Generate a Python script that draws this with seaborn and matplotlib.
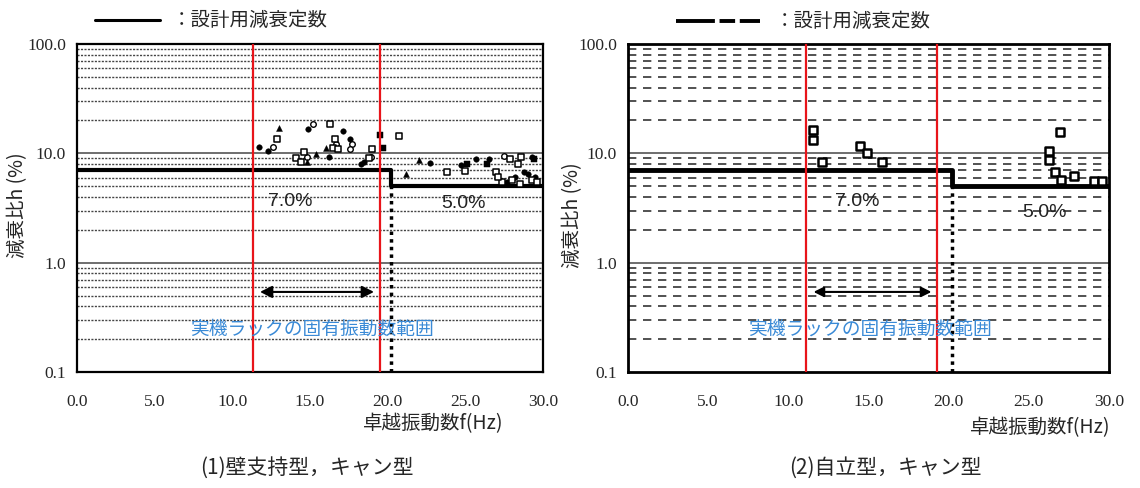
import numpy as np
import pandas as pd
import matplotlib
matplotlib.use("Agg")
import matplotlib.pyplot as plt
import seaborn as sns
from matplotlib.lines import Line2D

# ---------------- data ----------------
x_ticks = [0.0, 5.0, 10.0, 15.0, 20.0, 25.0, 30.0]
x_tick_labels = ["0.0", "5.0", "10.0", "15.0", "20.0", "25.0", "30.0"]
y_ticks = [0.1, 1.0, 10.0, 100.0]
y_tick_labels = ["0.1", "1.0", "10.0", "100.0"]

design_f = [0.0, 20.2, 30.0]
design_h = [7.0, 5.0, 5.0]
design_labels = ["7.0%", "5.0%"]
range_lo_left, range_hi_left = 11.3, 19.5
range_lo_right, range_hi_right = 11.1, 19.3

# left panel (wall-supported, can type)
l_fcirc_f = [14.85, 17.1, 11.72, 12.3, 17.6, 16.2, 18.3, 18.5, 22.7, 24.7, 25.7, 26.5, 29.3, 28.2, 28.75, 29.06, 29.5, 27.7]
l_fcirc_h = [16.6, 15.9, 11.4, 10.4, 13.4, 9.2, 8.0, 8.3, 8.1, 7.8, 8.9, 8.8, 9.2, 6.06, 6.74, 6.5, 6.06, 5.45]
l_ocirc_f = [15.2, 12.64, 16.7, 17.7, 17.6, 14.8, 18.9, 27.5]
l_ocirc_h = [18.5, 11.4, 12.1, 12.1, 10.9, 9.2, 9.2, 9.4]
l_osq_f = [16.3, 20.7, 12.9, 16.6, 16.5, 16.8, 19.0, 14.6, 14.1, 14.4, 18.8, 23.8, 25.0, 27.0, 27.9, 28.6, 28.4, 27.35, 28.0, 28.5, 29.3, 29.6, 27.1]
l_osq_h = [18.4, 14.3, 13.4, 13.4, 11.2, 10.9, 10.9, 10.3, 9.1, 8.4, 9.1, 6.7, 6.9, 6.7, 8.9, 9.2, 8.0, 5.45, 5.75, 5.27, 5.75, 5.45, 6.06]
l_tri_f = [13.03, 16.0, 15.4, 22.0, 21.2, 14.8]
l_tri_h = [17.1, 11.2, 9.9, 8.6, 6.5, 8.4]
l_fsq_f = [19.5, 19.7, 25.1, 26.4, 29.4]
l_fsq_h = [14.6, 11.1, 8.0, 8.0, 8.9]

# right panel (free-standing, can type)
r_sq_f = [11.56, 11.56, 12.08, 14.48, 14.93, 15.83, 26.95, 26.28, 26.28, 26.65, 27.0, 27.83, 29.07, 29.55]
r_sq_h = [16.3, 13.2, 8.4, 11.6, 10.0, 8.3, 15.7, 10.6, 8.6, 6.8, 5.65, 6.2, 5.6, 5.55]

legend_text = "：設計用減衰定数"
range_text = "実機ラックの固有振動数範囲"
xlabel = "卓越振動数f(Hz)"
ylabel = "減衰比h (%)"
captions = ["(1)壁支持型，キャン型", "(2)自立型，キャン型"]

# ---------------- style ----------------
sns.set_theme(style="white")
plt.rcParams["font.family"] = ["Liberation Serif", "Noto Sans CJK JP", "DejaVu Sans"]
JP = ["Noto Sans CJK JP", "DejaVu Sans"]

W, H = 1140, 488
fig = plt.figure(figsize=(W / 100, H / 100), dpi=100)

def fx(px):
    return px / W

def fy(py):
    return 1 - py / H

axL = fig.add_axes([fx(77), fy(372), fx(543 - 77), fy(44) - fy(372)])
axR = fig.add_axes([fx(628), fy(372), fx(1109 - 628), fy(44) - fy(372)])

design_df = pd.DataFrame({"f": design_f, "h": design_h})


def setup(ax, minor_style, minor_lw, minor_color, frame_lw):
    ax.set_yscale("log")
    ax.set_xlim(0, 30)
    ax.set_ylim(0.1, 100)
    for dec in [0.1, 1.0, 10.0]:
        for m in range(2, 10):
            ax.axhline(dec * m, color=minor_color, lw=minor_lw, ls=minor_style, zorder=1)
    for v in [1.0, 10.0]:
        ax.axhline(v, color="#555555", lw=1.2, zorder=1)
    ax.set_xticks(x_ticks)
    ax.set_xticklabels(x_tick_labels, fontsize=12.5)
    ax.set_yticks(y_ticks)
    ax.set_yticklabels(y_tick_labels, fontsize=12.5)
    ax.yaxis.set_minor_locator(matplotlib.ticker.NullLocator())
    ax.tick_params(axis="x", direction="in", length=4, pad=16, width=1)
    ax.tick_params(axis="y", direction="in", length=0, pad=8)
    for s in ax.spines.values():
        s.set_color("black")
        s.set_linewidth(frame_lw)


setup(axL, (0, (1.5, 1.0)), 1.0, "#444444", 1.6)
setup(axR, (0, (5, 4)), 1.2, "#333333", 2.0)

# design lines
for ax, lw in [(axL, 3.0), (axR, 3.5)]:
    sns.lineplot(data=design_df, x="f", y="h", drawstyle="steps-post", color="black",
                 lw=lw, ax=ax, zorder=4, estimator=None, sort=False)
    ax.plot([design_f[1], design_f[1]], [0.1, design_h[1]], color="black", lw=2.5,
            ls=(0, (1, 1.2)), zorder=4)

# left scatter
sk = dict(ax=axL, zorder=5, legend=False)
sns.scatterplot(x=l_fcirc_f, y=l_fcirc_h, marker="o", s=16, color="black", edgecolor="black", **sk)
sns.scatterplot(x=l_ocirc_f, y=l_ocirc_h, marker="o", s=16, color="white", edgecolor="black", linewidth=1.0, **sk)
sns.scatterplot(x=l_osq_f, y=l_osq_h, marker="s", s=18, color="white", edgecolor="black", linewidth=1.1, **sk)
sns.scatterplot(x=l_tri_f, y=l_tri_h, marker="^", s=18, color="black", edgecolor="black", **sk)
sns.scatterplot(x=l_fsq_f, y=l_fsq_h, marker="s", s=18, color="black", edgecolor="black", **sk)

# right scatter
sns.scatterplot(x=r_sq_f, y=r_sq_h, marker="s", s=38, color="white", edgecolor="black",
                linewidth=1.8, ax=axR, zorder=5, legend=False)

for ax in (axL, axR):
    ax.set_xlabel("")
    ax.set_ylabel("")

# annotations
for ax, lo, hi, t7, t5 in [(axL, range_lo_left, range_hi_left, (13.7, 3.6), (24.9, 3.5)),
                           (axR, range_lo_right, range_hi_right, (14.3, 3.6), (26.0, 2.9))]:
    ax.axvline(lo, color="#e8141a", lw=1.6, zorder=6)
    ax.axvline(hi, color="#e8141a", lw=1.6, zorder=6)
    ax.annotate("", xy=(hi - 0.2, 0.54), xytext=(lo + 0.3, 0.54),
                arrowprops=dict(arrowstyle="<|-|>", color="black", lw=1.5,
                                mutation_scale=18 if ax is axL else 15), zorder=6)
    ax.text(15.1, 0.245, range_text, color="#3a8ad6", fontsize=13.5, family=JP,
            ha="center", va="center", zorder=7)
    ax.text(t7[0], t7[1], design_labels[0], fontsize=14, family=["Liberation Sans"],
            ha="center", va="center", color="#222222", zorder=7)
    ax.text(t5[0], t5[1], design_labels[1], fontsize=14, family=["Liberation Sans"],
            ha="center", va="center", color="#222222", zorder=7)

# legends at the top
fig.add_artist(Line2D([fx(95), fx(160)], [fy(20), fy(20)], color="black", lw=2.2))
fig.text(fx(172), fy(20), legend_text, fontsize=14, family=JP, ha="left", va="center")
fig.add_artist(Line2D([fx(676), fx(760)], [fy(21), fy(21)], color="black", lw=2.8,
                      ls=(0, (10, 1.2, 4, 1.2))))
fig.text(fx(775), fy(21), legend_text, fontsize=14, family=JP, ha="left", va="center")

# axis labels
fig.text(fx(18), fy(205), ylabel, fontsize=14, family=JP, rotation=90, ha="center", va="center")
fig.text(fx(573), fy(215), ylabel, fontsize=14, family=JP, rotation=90, ha="center", va="center")
fig.text(fx(433), fy(424), xlabel, fontsize=14, family=JP, ha="center", va="center")
fig.text(fx(1040), fy(428), xlabel, fontsize=14, family=JP, ha="center", va="center")

# captions
fig.text(fx(307), fy(468), captions[0], fontsize=15, family=JP, ha="center", va="center")
fig.text(fx(885), fy(468), captions[1], fontsize=15, family=JP, ha="center", va="center")

fig.savefig("out.png", dpi=100, facecolor="white")
